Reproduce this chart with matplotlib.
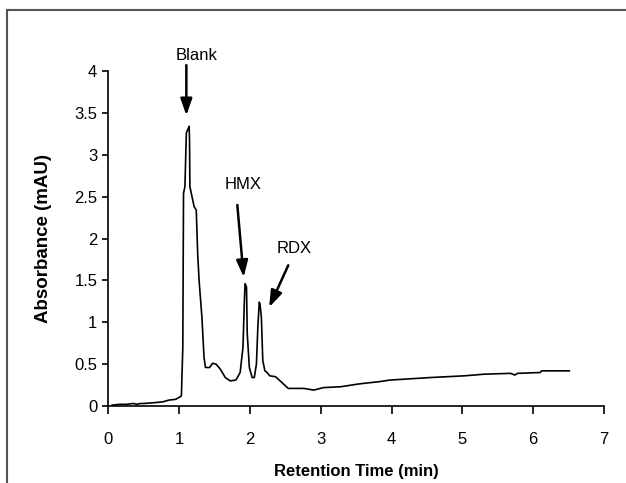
import matplotlib
matplotlib.use("Agg")
import matplotlib.pyplot as plt
from matplotlib.lines import Line2D

# chromatogram trace
time_min = [0.05, 0.15, 0.25, 0.35, 0.40, 0.45, 0.50, 0.65, 0.77, 0.85, 0.95, 1.03,
            1.05, 1.06, 1.08, 1.10, 1.12, 1.14, 1.145, 1.15, 1.21, 1.24, 1.26, 1.28,
            1.32, 1.35, 1.37, 1.43, 1.47, 1.52, 1.58, 1.65, 1.72, 1.80, 1.86, 1.90,
            1.92, 1.93, 1.95, 1.96, 1.99, 2.03, 2.06, 2.09, 2.11, 2.13, 2.14, 2.16,
            2.18, 2.21, 2.24, 2.28, 2.36, 2.45, 2.54, 2.76, 2.90, 3.04, 3.28, 3.51,
            3.60, 3.82, 3.98, 4.55, 5.02, 5.31, 5.68, 5.74, 5.78, 6.10, 6.12, 6.51]
absorbance = [0.01, 0.02, 0.02, 0.03, 0.02, 0.03, 0.03, 0.04, 0.05, 0.07, 0.08, 0.12,
              0.70, 2.54, 2.62, 3.26, 3.30, 3.34, 3.17, 2.62, 2.38, 2.34, 1.82, 1.50,
              1.06, 0.58, 0.46, 0.46, 0.51, 0.50, 0.44, 0.34, 0.30, 0.31, 0.40, 0.70,
              1.26, 1.46, 1.42, 0.87, 0.46, 0.34, 0.34, 0.50, 0.94, 1.24, 1.22, 1.06,
              0.54, 0.42, 0.40, 0.36, 0.35, 0.28, 0.21, 0.21, 0.19, 0.22, 0.23, 0.26,
              0.27, 0.29, 0.31, 0.34, 0.36, 0.38, 0.39, 0.37, 0.39, 0.40, 0.42, 0.42]

# peak labels: text, text position, arrow start, arrow tip
labels = ["Blank", "HMX", "RDX"]
label_xy = [(1.25, 4.19), (1.90, 2.64), (2.62, 1.88)]
arrow_from = [(1.10, 4.07), (1.82, 2.40), (2.54, 1.68)]
arrow_to = [(1.10, 3.47), (1.91, 1.54), (2.27, 1.18)]

x_ticks = [0, 1, 2, 3, 4, 5, 6, 7]
y_ticks = [0, 0.5, 1, 1.5, 2, 2.5, 3, 3.5, 4]
y_tick_labels = ["0", "0.5", "1", "1.5", "2", "2.5", "3", "3.5", "4"]

plt.rcParams['font.family'] = ['Liberation Sans', 'DejaVu Sans']

fig = plt.figure(figsize=(6.26, 4.83), dpi=100)
ax = fig.add_axes([0.1733, 0.1594, 0.7915, 0.6936])

ax.plot(time_min, absorbance, color='black', linewidth=1.2)

for txt, txy, a0, a1 in zip(labels, label_xy, arrow_from, arrow_to):
    ax.text(txy[0], txy[1], txt, ha='center', va='center', fontsize=12)
    ax.annotate('', xy=a1, xytext=a0,
                arrowprops=dict(arrowstyle='-|>,head_width=0.35,head_length=1.0',
                                color='black', lw=1.8, shrinkA=0, shrinkB=0))

ax.set_xlim(0, 7)
ax.set_ylim(0, 4)
ax.set_xticks(x_ticks)
ax.set_yticks(y_ticks)
ax.set_yticklabels(y_tick_labels)
ax.tick_params(axis='both', direction='out', width=1.2, labelsize=12)
ax.tick_params(axis='x', length=6, pad=13)
ax.tick_params(axis='y', length=4, pad=4)
ax.spines['top'].set_visible(False)
ax.spines['right'].set_visible(False)
ax.spines['left'].set_linewidth(1.2)
ax.spines['bottom'].set_linewidth(1.2)

ax.set_xlabel('Retention Time (min)', fontsize=12, fontweight='bold', labelpad=12)
ax.set_ylabel('Absorbance (mAU)', fontsize=13.5, fontweight='bold', labelpad=16)

# outer frame (left and top edges visible)
fig.add_artist(Line2D([0.011, 0.011], [0.0, 0.979], transform=fig.transFigure,
                      color='#555555', lw=1.5))
fig.add_artist(Line2D([0.011, 1.0], [0.979, 0.979], transform=fig.transFigure,
                      color='#555555', lw=1.5))

fig.savefig('out.png', dpi=100)
